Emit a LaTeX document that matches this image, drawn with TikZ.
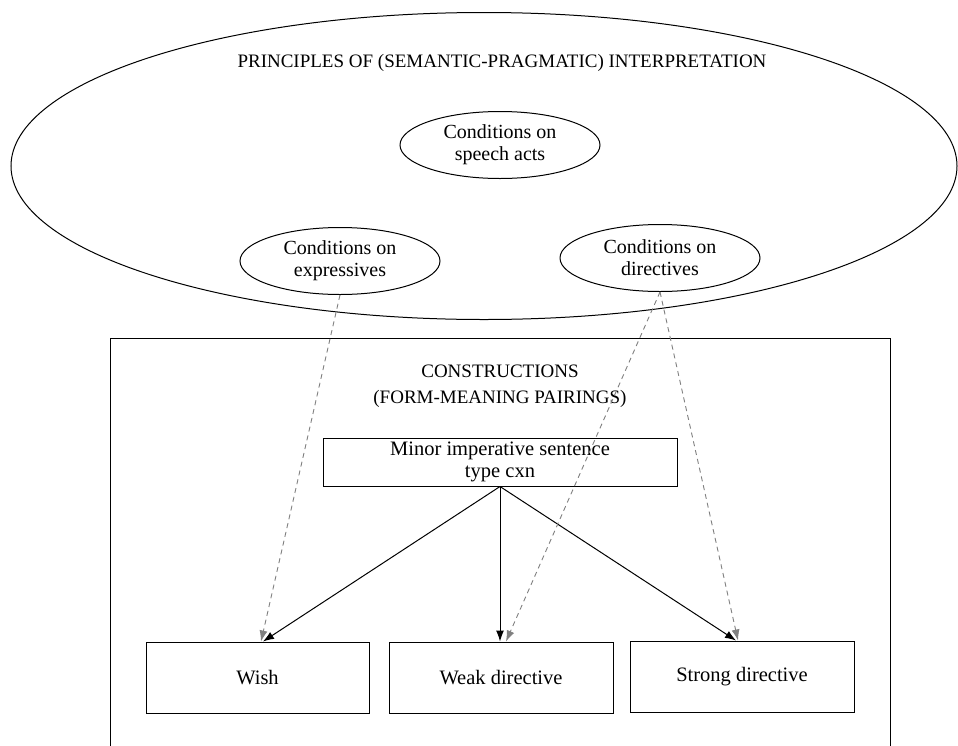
\documentclass[tikz,border=0pt]{standalone}
\usepackage{fontspec}
\setmainfont{Liberation Serif}
\usetikzlibrary{shapes.geometric,arrows.meta}
\begin{document}
\begin{tikzpicture}[x=1pt,y=-1pt,
  outline/.style={draw=black,line width=1pt},
  cond/.style={outline,ellipse,minimum width=200pt,minimum height=67pt,inner sep=0pt,
    align=center,font=\fontsize{20}{22}\selectfont},
  box/.style={outline,rectangle,inner sep=0pt,align=center,font=\fontsize{20.5}{22}\selectfont},
  heading/.style={align=center,font=\fontsize{19}{26}\selectfont},
  link/.style={line width=1pt,-{Latex[length=11pt,width=8pt]}},
  instance/.style={gray,line width=0.9pt,dash pattern=on 5pt off 4pt,
    -{Latex[length=11pt,width=8pt]}}]
\clip (0,0) rectangle (958,745);
\fill[white] (0,0) rectangle (958,745);

% semantic-pragmatic principles
\node[outline,ellipse,minimum width=946pt,minimum height=307pt,inner sep=0pt] (principles) at (484,166) {};
\node[heading] (ptitle) at (502,63) {PRINCIPLES OF (SEMANTIC-PRAGMATIC) INTERPRETATION};
\node[cond] (speech) at (500,145) {Conditions on\\speech acts};
\node[cond] (expr) at (340,261) {Conditions on\\expressives};
\node[cond] (dir) at (660,258) {Conditions on\\directives};

% constructional level
\node[outline,rectangle,inner sep=0pt,minimum width=780pt,minimum height=430pt,anchor=north west] (cxns) at (110,338) {};
\node[heading] (ctitle) at (500,386) {CONSTRUCTIONS\\(FORM-MEANING PAIRINGS)};
\node[box,minimum width=354pt,minimum height=48pt] (minor) at (500,462) {Minor imperative sentence\\type cxn};
\node[box,minimum width=223pt,minimum height=71pt] (wish) at (257.5,677.5) {Wish};
\node[box,minimum width=224pt,minimum height=71pt] (weak) at (501,677.5) {Weak directive};
\node[box,minimum width=224pt,minimum height=71pt] (strong) at (742,676.5) {Strong directive};

% inheritance links
\draw[link] (minor.south) -- (wish.north -| 263,0);
\draw[link] (minor.south) -- (weak.north -| 500,0);
\draw[link] (minor.south) -- (strong.north -| 736,0);

% licensing by interpretive conditions
\draw[instance] (expr.south) -- (wish.north -| 261,0);
\draw[instance] (dir.south) -- (weak.north -| 506,0);
\draw[instance] (dir.south) -- (strong.north -| 738,0);
\end{tikzpicture}
\end{document}
